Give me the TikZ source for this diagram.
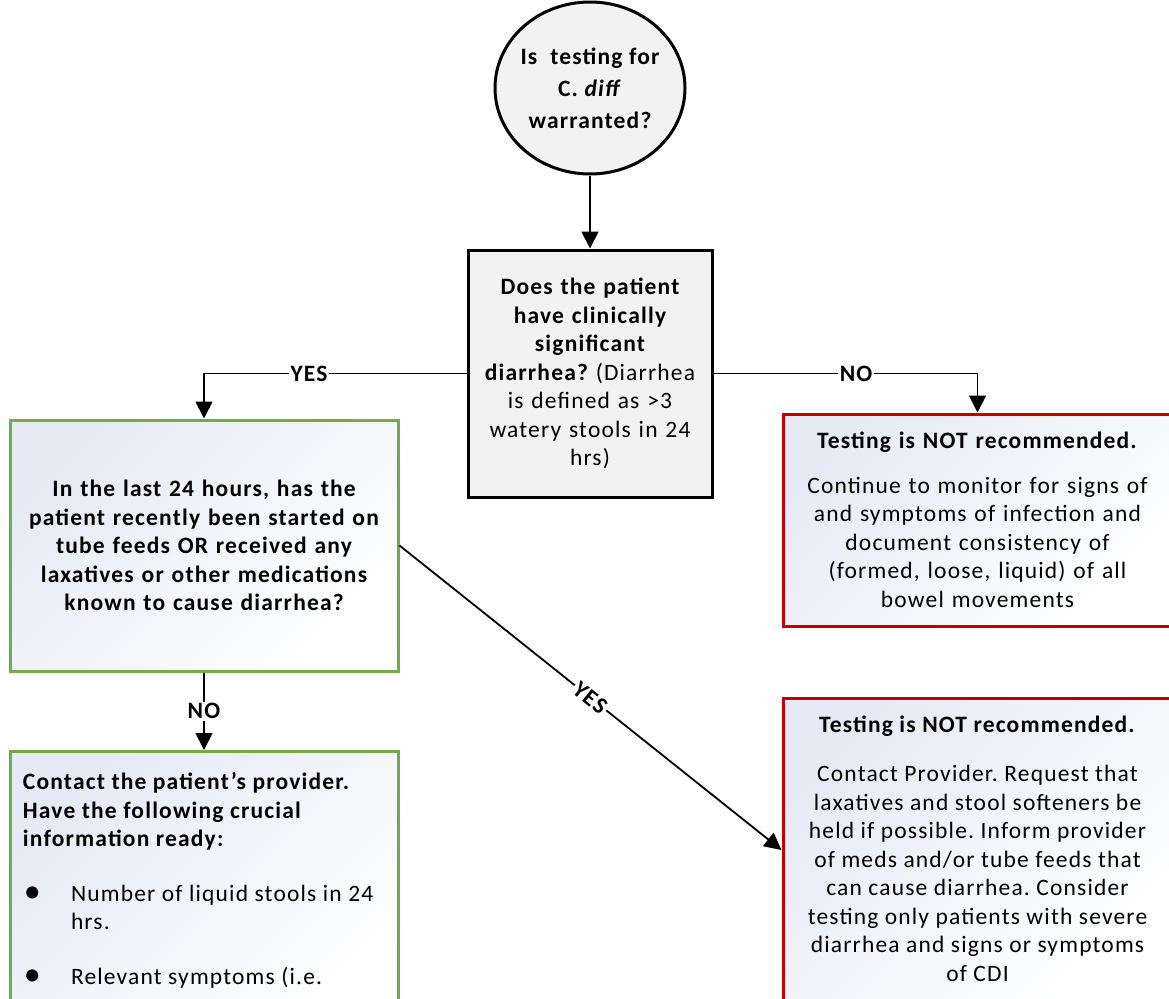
\documentclass[tikz,border=0pt]{standalone}
\usepackage{fontspec}
\setmainfont{Carlito}[LetterSpace=5]
\usepackage{xcolor}
\usepackage{graphicx}
\usetikzlibrary{arrows.meta,shapes.geometric,positioning}

\definecolor{boxgray}{HTML}{F2F2F2}
\definecolor{okgreen}{HTML}{70AD47}
\definecolor{stopred}{HTML}{C00000}
\definecolor{paleblue}{HTML}{E6EAF4}

\newcommand{\bigbullet}{\makebox[48pt][l]{\hspace{1pt}\raisebox{-1.5pt}{\scalebox{1.45}{\textbullet}}}}

\begin{document}
\begin{tikzpicture}[x=1pt,y=-1pt,
    flow/.style={line width=1.8pt,-{Triangle[length=17pt,width=17pt]}},
    lbl/.style={fill=white,inner sep=1.5pt,font=\bfseries},
    startnode/.style={ellipse,draw,line width=3pt,fill=boxgray,minimum width=190pt,minimum height=172pt,
        inner xsep=-12pt,inner ysep=0pt,align=center,font=\fontsize{23.5pt}{32pt}\selectfont\bfseries},
    graybox/.style={draw,line width=3pt,fill=boxgray,minimum width=244pt,minimum height=247pt,
        inner sep=4pt,text width=236pt,align=center},
    shadebox/.style={line width=3pt,top color=paleblue,bottom color=white,shading angle=45,inner sep=0pt},
    greenbox/.style={shadebox,draw=okgreen},
    redbox/.style={shadebox,draw=stopred}]
    \fontsize{23.5pt}{28.5pt}\selectfont\frenchspacing
    \useasboundingbox (0,0) rectangle (1169,998);
    \clip (0,0) rectangle (1169,998);
    % question and first check
    \node[startnode] (start) at (590,88) {Is\ \ testing for\\C. \textit{diff}\\warranted?};
    \node[graybox] (query) at (590,373.5) {{\bfseries Does the patient\\have clinically\\significant\\diarrhea?} (Diarrhea\\is defined as >3\\watery stools in 24\\hrs)};
    % left branch
    \node[greenbox,minimum width=388pt,minimum height=251pt,text width=380pt,align=center,font=\bfseries] (review) at (204,545.5)
        {In the last 24 hours, has the\\patient recently been started on\\tube feeds OR received any\\laxatives or other medications\\known to cause diarrhea?};
    \node[greenbox,anchor=north,minimum width=388pt,inner xsep=13pt,inner ysep=21pt] (contact) at (204,750)
        {\parbox[t][250pt][t]{362pt}{\raggedright
        \textbf{Contact the patient’s provider.\\Have the following crucial\\information ready:}\par
        \vspace{26pt}
        \hangindent=48pt\hangafter=1\noindent\bigbullet Number of liquid stools in 24\newline hrs.\par
        \vspace{26pt}
        \hangindent=48pt\hangafter=1\noindent\bigbullet Relevant symptoms (i.e.\par}};
    % right branch
    \node[redbox,minimum width=389pt,minimum height=212pt,text width=380pt,align=center] (notest) at (977.5,520)
        {\textbf{Testing is NOT recommended.}\\[16pt]Continue to monitor for signs of\\and symptoms of infection and\\document consistency of\\(formed, loose, liquid) of all\\bowel movements};
    \node[redbox,anchor=north,minimum width=389pt,inner xsep=4.5pt,inner ysep=17pt] (advice) at (977.5,697)
        {\parbox[t][269pt][t]{380pt}{\centering
        \textbf{Testing is NOT recommended.}\\[21pt]Contact Provider. Request that\\laxatives and stool softeners be\\held if possible. Inform provider\\of meds and/or tube feeds that\\can cause diarrhea. Consider\\testing only patients with severe\\diarrhea and signs or symptoms\\of CDI\par}};
    % connectors
    \draw[flow] (start) -- (query);
    \draw[flow] (query.west) -| node[lbl,pos=0.3] {YES} (review.north);
    \draw[flow] (query.east) -| node[lbl,pos=0.27] {NO} (notest.north);
    \draw[flow] (review) -- node[lbl] {NO} (contact);
    \draw[flow] (review.east) -- node[lbl,sloped] {YES} (advice.west);
\end{tikzpicture}
\end{document}
